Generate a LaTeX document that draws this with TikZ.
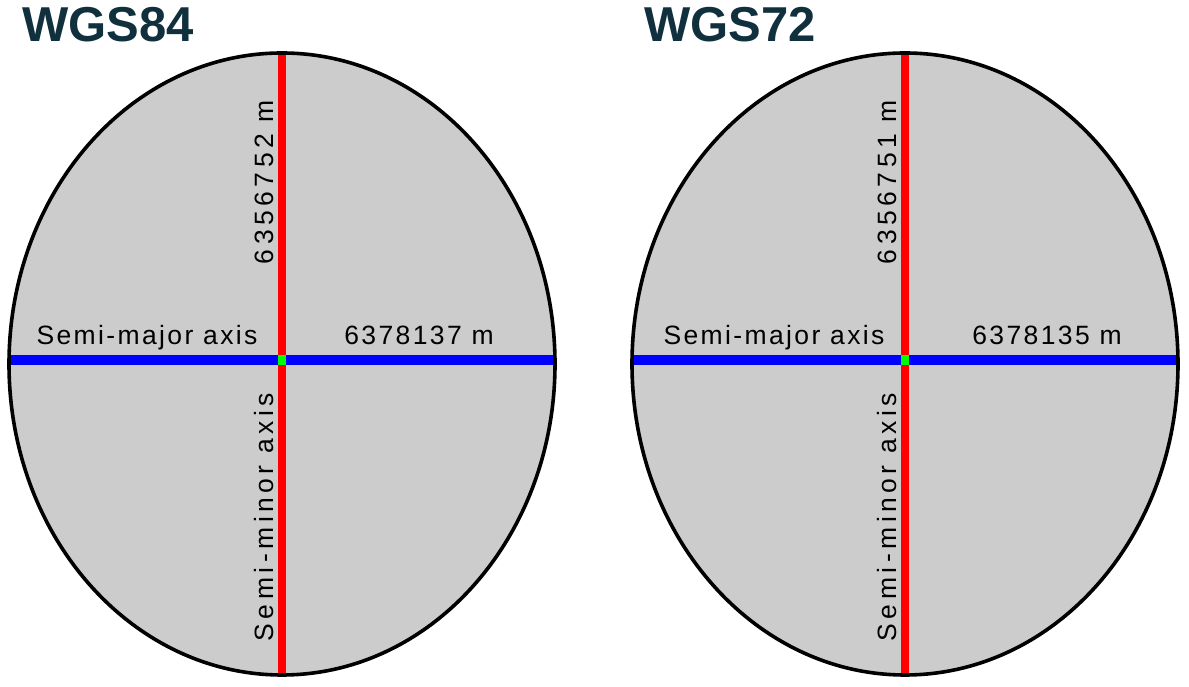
\documentclass[tikz,border=0pt]{standalone}
\usepackage{fontspec}
\setmainfont{Liberation Sans}
\usepackage{tikz}
\usetikzlibrary{shapes.geometric, positioning, calc}
\definecolor{titlenavy}{RGB}{16, 48, 62}
\definecolor{globegray}{RGB}{204, 204, 204}
\definecolor{axisred}{RGB}{255, 0, 0}
\definecolor{axisblue}{RGB}{0, 0, 255}
\definecolor{centregreen}{RGB}{0, 255, 0}

\begin{document}
\begin{tikzpicture}[x=1pt, y=1pt,
  globe/.style={ellipse, fill=globegray, minimum width=546pt, minimum height=622pt,
                inner sep=0pt, outer sep=0pt},
  rim/.style={ellipse, draw=black, line width=3.6pt, minimum width=546pt,
              minimum height=622pt, inner sep=0pt, outer sep=0pt},
  title/.style={font=\fontsize{49}{49}\selectfont\bfseries, text=titlenavy,
                inner sep=0pt, anchor=base west},
  axislabel/.style={font=\fontsize{26.5}{26.5}\selectfont\addfontfeatures{LetterSpace=9},
                    inner sep=0pt, anchor=base},
  minorlabel/.style={font=\fontsize{26.5}{26.5}\selectfont\addfontfeatures{LetterSpace=17},
                     inner sep=0pt, anchor=base, rotate=90},
  minoraxis/.style={line width=8pt, color=axisred},
  majoraxis/.style={line width=10pt, color=axisblue},
  centre/.style={fill=centregreen, minimum width=8pt, minimum height=10pt, inner sep=0pt}
]
\useasboundingbox (0,0) rectangle (1189,687);

% Titles
\node[title] (t84) at (22,645) {WGS84};
\node[title] (t72) at (644,645) {WGS72};

% WGS84 ellipsoid
\coordinate (c84) at (282,327);
\node[globe] (wgs84) at (282,323) {};
\draw[majoraxis] (wgs84.west |- c84) -- (wgs84.east |- c84);
\draw[minoraxis] (wgs84.north) -- (wgs84.south);
\node[centre] (g84) at (c84) {};
\node[rim] (rim84) at (wgs84) {};

% WGS72 ellipsoid
\coordinate (c72) at (905,327);
\node[globe] (wgs72) at (905,323) {};
\draw[majoraxis] (wgs72.west |- c72) -- (wgs72.east |- c72);
\draw[minoraxis] (wgs72.north) -- (wgs72.south);
\node[centre] (g72) at (c72) {};
\node[rim] (rim72) at (wgs72) {};

% Labels
\node[axislabel] (maj84) at (147,342) {Semi-major axis};
\node[axislabel] (a84) at (419,342) {6378137 m};
\node[minorlabel] (b84) at (273,505) {6356752 m};
\node[minorlabel] (min84) at (273,170) {Semi-minor axis};

\node[axislabel] (maj72) at (774,342) {Semi-major axis};
\node[axislabel] (a72) at (1047,342) {6378135 m};
\node[minorlabel] (b72) at (896,505) {6356751 m};
\node[minorlabel] (min72) at (896,170) {Semi-minor axis};

\end{tikzpicture}
\end{document}
